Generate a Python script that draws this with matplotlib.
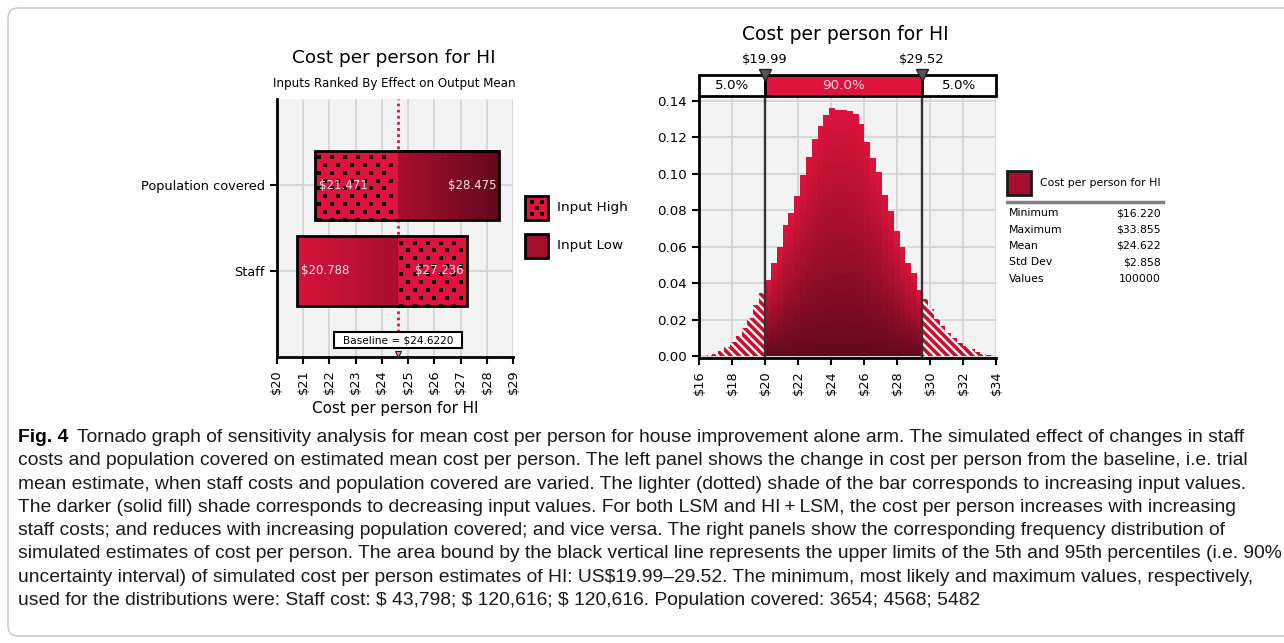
import matplotlib

matplotlib.use("Agg")

import matplotlib.pyplot as plt
import numpy as np
from matplotlib.colors import LinearSegmentedColormap, Normalize
from matplotlib.patches import FancyBboxPatch, Rectangle
from matplotlib.transforms import blended_transform_factory

plt.rcParams["font.family"] = "DejaVu Sans"
plt.rcParams["hatch.linewidth"] = 2.6

# ---- tornado panel data ----
tornado_inputs = ["Staff", "Population covered"]
output_input_low = [20.788, 28.475]
output_input_high = [27.236, 21.471]
baseline = 24.622
baseline_label = "Baseline = $24.6220"
tornado_ticks = [20, 21, 22, 23, 24, 25, 26, 27, 28, 29]

# ---- distribution panel data (density per bin) ----
p5_value = 19.99
p95_value = 29.52
bin_width = 0.353
left_tail = [0.0003, 0.0008, 0.0015, 0.0030, 0.0052, 0.0080,
             0.0110, 0.0155, 0.0210, 0.0280, 0.0345]
middle_bins = [0.0415, 0.0507, 0.0598, 0.0716, 0.0782, 0.0874, 0.0988,
               0.1085, 0.1186, 0.1256, 0.1318, 0.1355, 0.1344, 0.1344,
               0.1337, 0.1324, 0.1269, 0.1171, 0.1080, 0.1006, 0.0883,
               0.0791, 0.0681, 0.0598, 0.0507, 0.0452, 0.0360]
right_tail = [0.0314, 0.0259, 0.0204, 0.0167, 0.0130, 0.0102,
              0.0075, 0.0057, 0.0039, 0.0025, 0.0014, 0.0007]
band_labels = ["5.0%", "90.0%", "5.0%"]
dist_xticks = [16, 18, 20, 22, 24, 26, 28, 30, 32, 34]
dist_yticks = [0.00, 0.02, 0.04, 0.06, 0.08, 0.10, 0.12, 0.14]

stat_names = ["Minimum", "Maximum", "Mean", "Std Dev", "Values"]
stat_values = ["$16.220", "$33.855", "$24.622", "$2.858", "100000"]

caption_lines = [
    "Tornado graph of sensitivity analysis for mean cost per person for house improvement alone arm. The simulated effect of changes in staff",
    "costs and population covered on estimated mean cost per person. The left panel shows the change in cost per person from the baseline, i.e. trial",
    "mean estimate, when staff costs and population covered are varied. The lighter (dotted) shade of the bar corresponds to increasing input values.",
    "The darker (solid fill) shade corresponds to decreasing input values. For both LSM and HI\u2009+\u2009LSM, the cost per person increases with increasing",
    "staff costs; and reduces with increasing population covered; and vice versa. The right panels show the corresponding frequency distribution of",
    "simulated estimates of cost per person. The area bound by the black vertical line represents the upper limits of the 5th and 95th percentiles (i.e. 90%",
    "uncertainty interval) of simulated cost per person estimates of HI: US$19.99\u201329.52. The minimum, most likely and maximum values, respectively,",
    "used for the distributions were: Staff cost: $ 43,798; $ 120,616; $ 120,616. Population covered: 3654; 4568; 5482",
]

W, H = 1284, 643
CRIMSON = "#de143c"
GRID = "#d6d6d6"
BG = "#f3f3f3"
bar_cmap = LinearSegmentedColormap.from_list("bar", ["#dc143c", "#a80f2e", "#5a0819"])
hist_cmap = LinearSegmentedColormap.from_list("hist", ["#62091c", "#a30f2d", "#dc143c"])


def fx(px):
    return px / W


def fy(py):
    return 1 - py / H


def style_axes(ax):
    ax.set_facecolor(BG)
    ax.set_axisbelow(True)
    for side in ("top", "right"):
        ax.spines[side].set_visible(False)
    for side in ("left", "bottom"):
        ax.spines[side].set_linewidth(2)
        ax.spines[side].set_color("black")
    ax.grid(True, color=GRID, linewidth=1.3)
    ax.tick_params(length=5, width=1.5, direction="out")


def draw_dots(ax, x0, x1, y0, y1, dx, dy):
    # staggered dot pattern used by the "Input High" fill
    xs, ys = [], []
    for k, yy in enumerate(np.arange(y1 - dy * 0.8, y0, -dy)):
        shift = 0 if k % 2 == 0 else dx / 2
        for xx in np.arange(x0 + dx * 0.25 + shift, x1 - dx * 0.1, dx):
            xs.append(xx)
            ys.append(yy)
    ax.scatter(xs, ys, s=5, marker="s", color="black", linewidths=0, zorder=3.5)


def draw_tornado(fig):
    ax = fig.add_axes([fx(276.7), fy(357.3), 236.6 / W, 258 / H])
    style_axes(ax)
    ax.set_xlim(20, 29)
    ax.set_ylim(-1.01, 2.006)
    bar_h = 0.81
    norm = Normalize(vmin=20.3, vmax=28.9)

    for i, (lo, hi) in enumerate(zip(output_input_low, output_input_high)):
        y0, y1 = i - bar_h / 2, i + bar_h / 2
        # solid (input low) part with horizontal gradient
        s0, s1 = sorted((baseline, lo))
        grad = np.linspace(s0, s1, 300)[None, :]
        ax.imshow(grad, extent=(s0, s1, y0, y1), cmap=bar_cmap, norm=norm,
                  aspect="auto", interpolation="bilinear", zorder=3)
        # dotted (input high) part
        d0, d1 = sorted((baseline, hi))
        ax.add_patch(Rectangle((d0, y0), d1 - d0, bar_h, facecolor=CRIMSON,
                               edgecolor="none", zorder=3))
        draw_dots(ax, d0, d1, y0, y1, 0.5, 0.092)
        left, right = min(lo, hi), max(lo, hi)
        ax.add_patch(Rectangle((left, y0), right - left, bar_h, fill=False,
                               edgecolor="black", linewidth=2, zorder=4))
        ax.text(left + 0.12, i, f"${left:.3f}", ha="left", va="center",
                fontsize=8.5, color="#f6e4e9", zorder=5)
        ax.text(right - 0.12, i, f"${right:.3f}", ha="right", va="center",
                fontsize=8.5, color="#f6e4e9", zorder=5)

    ax.set_aspect("auto")
    ax.set_xlim(20, 29)
    ax.set_ylim(-1.01, 2.006)

    ax.plot([baseline, baseline], [-0.72, 2.006], linestyle=(0, (1, 1.2)),
            color="#e0143c", linewidth=2, zorder=1.5)
    ax.add_patch(Rectangle((baseline - 2.435, -0.907), 4.87, 0.187,
                           facecolor="white", edgecolor="black", linewidth=1.5, zorder=5))
    ax.text(baseline, -0.815, baseline_label, ha="center", va="center",
            fontsize=7.6, zorder=6)
    ax.plot([baseline], [-0.975], marker="v", markersize=5, color="#f08a9c",
            markeredgecolor="#222222", markeredgewidth=0.8, zorder=6, clip_on=False)

    ax.set_xticks(tornado_ticks)
    ax.set_xticklabels([f"${t}" for t in tornado_ticks], rotation=90, fontsize=9.3)
    ax.set_yticks(range(len(tornado_inputs)))
    ax.set_yticklabels(tornado_inputs, fontsize=9.3)
    ax.set_xlabel("Cost per person for HI", fontsize=10.9, labelpad=5)

    # legend
    tr = ax.transAxes
    pw, ph = 23 / 236.6, 24 / 258
    hx, hy = (525 - 276.7) / 236.6, (357.3 - 220) / 258
    ax.add_patch(Rectangle((hx, hy), pw, ph, transform=tr, facecolor=CRIMSON,
                           edgecolor="black", linewidth=2, clip_on=False, zorder=5))
    dots_x, dots_y = [], []
    for r, oy in enumerate([6, 12, 18]):
        cols = [6.5, 16.5] if r % 2 == 0 else [11.5]
        for ox in cols:
            dots_x.append(hx + ox / 236.6)
            dots_y.append(hy + ph - oy / 258)
    ax.scatter(dots_x, dots_y, s=5, marker="s", color="black", linewidths=0,
               transform=tr, clip_on=False, zorder=6)
    lx, ly = hx, (357.3 - 258) / 258
    ax.add_patch(Rectangle((lx, ly), pw, ph, transform=tr, facecolor="#a50f2e",
                           edgecolor="black", linewidth=2, clip_on=False, zorder=5))
    tx = (557 - 276.7) / 236.6
    ax.text(tx, hy + ph / 2, "Input High", transform=tr, fontsize=9.7, va="center")
    ax.text(tx, ly + ph / 2, "Input Low", transform=tr, fontsize=9.7, va="center")

    fig.text(fx(394), fy(58), "Cost per person for HI", ha="center", va="center", fontsize=13.3)
    fig.text(fx(394), fy(83), "Inputs Ranked By Effect on Output Mean", ha="center",
             va="center", fontsize=8.6)


def draw_distribution(fig):
    ax = fig.add_axes([fx(699), fy(358.3), 297 / W, 261 / H])
    style_axes(ax)
    ymax = 0.1419

    # tails: red hatch on white
    left_edges = p5_value - bin_width * np.arange(len(left_tail), 0, -1)
    right_edges = p95_value + bin_width * np.arange(len(right_tail))
    for edges, heights in ((left_edges, left_tail), (right_edges, right_tail)):
        ax.bar(edges, heights, width=bin_width, align="edge", facecolor="white",
               edgecolor="#c8102e", hatch="\\\\\\\\", linewidth=0, zorder=2)

    # central 90% with vertical gradient
    heights = np.array(middle_bins)
    ny = 900
    ys = (np.arange(ny) + 0.5) / ny * heights.max()
    frac = ys[:, None] / heights[None, :]
    frac = np.where(frac <= 1, frac, np.nan)
    x_end = p5_value + bin_width * len(middle_bins)
    ax.imshow(frac, extent=(p5_value, x_end, 0, heights.max()), origin="lower",
              cmap=hist_cmap, vmin=0, vmax=1, aspect="auto", interpolation="nearest",
              zorder=2)
    ax.set_aspect("auto")
    ax.set_xlim(16, 34)
    ax.set_ylim(-0.001, ymax)

    ax.set_xticks(dist_xticks)
    ax.set_xticklabels([f"${t}" for t in dist_xticks], rotation=90, fontsize=9.3)
    ax.set_yticks(dist_yticks)
    ax.set_yticklabels([f"{t:.2f}" for t in dist_yticks], fontsize=9.6)

    # percentile band above the plot
    blend = blended_transform_factory(ax.transData, ax.transAxes)
    band_y, band_h = 1.005, 0.08
    segs = [(16, p5_value), (p5_value, p95_value), (p95_value, 34)]
    for (a, b), lab, fc, tc in zip(segs, band_labels, ["white", CRIMSON, "white"],
                                   ["black", "#f8dce3", "black"]):
        ax.add_patch(Rectangle((a, band_y), b - a, band_h, transform=blend,
                               facecolor=fc, edgecolor="black", linewidth=2,
                               clip_on=False, zorder=5))
        ax.text((a + b) / 2, band_y + band_h / 2, lab, transform=blend, ha="center",
                va="center", fontsize=9.7, color=tc, zorder=6)
    for v in (p5_value, p95_value):
        ax.plot([v, v], [0.007, band_y + band_h], transform=blend, color="#333333",
                linewidth=1.7, clip_on=False, zorder=4)
        ax.plot([v], [band_y + band_h], transform=blend, marker="v", markersize=8,
                color="#555555", markeredgecolor="#222222", clip_on=False, zorder=7)
        ax.text(v, 1.145, f"${v:.2f}", transform=blend, ha="center", va="center",
                fontsize=9.4)

    fig.text(fx(845), fy(35), "Cost per person for HI", ha="center", va="center", fontsize=13.5)

    # legend and statistics block
    fig.patches.append(Rectangle((fx(1007), fy(195)), 24 / W, 24 / H,
                                 transform=fig.transFigure, facecolor="#a50f2e",
                                 edgecolor="#1a1a1a", linewidth=2))
    fig.text(fx(1040), fy(183), "Cost per person for HI", va="center", fontsize=7.8)
    fig.lines.append(plt.Line2D([fx(1007), fx(1163)], [fy(201.7), fy(201.7)],
                                transform=fig.transFigure, color="#808080", linewidth=2.5))
    for k, (name, val) in enumerate(zip(stat_names, stat_values)):
        yy = fy(213.3 + 16.3 * k)
        fig.text(fx(1009), yy, name, va="center", fontsize=7.8)
        fig.text(fx(1161), yy, val, va="center", ha="right", fontsize=7.8)


def draw_caption(fig):
    fam = "Liberation Sans"
    base = 12.0
    x0 = 18
    first_y = 442
    step = 23.3
    bold = fig.text(fx(x0), fy(first_y), "Fig. 4", fontsize=base, family=fam,
                    weight="bold", va="baseline")
    texts = []
    for k, line in enumerate(caption_lines):
        t = fig.text(fx(x0), fy(first_y + step * k), line, fontsize=base, family=fam,
                     va="baseline", color="#1a1a1a", parse_math=False)
        texts.append(t)

    fig.canvas.draw()
    r = fig.canvas.get_renderer()
    gap = 9
    w_bold = bold.get_window_extent(r).width
    w_line = texts[0].get_window_extent(r).width
    scale = (1249 - x0) / (w_bold + gap + w_line)
    size = base * scale
    bold.set_fontsize(size)
    for t in texts:
        t.set_fontsize(size)
    fig.canvas.draw()
    w_bold = bold.get_window_extent(r).width
    texts[0].set_x(fx(x0 + w_bold + gap))


def main():
    fig = plt.figure(figsize=(W / 100, H / 100), dpi=100)
    fig.patches.append(FancyBboxPatch((8, 7), 1300, 628,
                                      boxstyle="round,pad=0,rounding_size=10",
                                      transform=None, facecolor="none",
                                      edgecolor="#c4c4c4", linewidth=1))
    draw_tornado(fig)
    draw_distribution(fig)
    draw_caption(fig)
    fig.savefig("out.png", dpi=100)


if __name__ == "__main__":
    main()
